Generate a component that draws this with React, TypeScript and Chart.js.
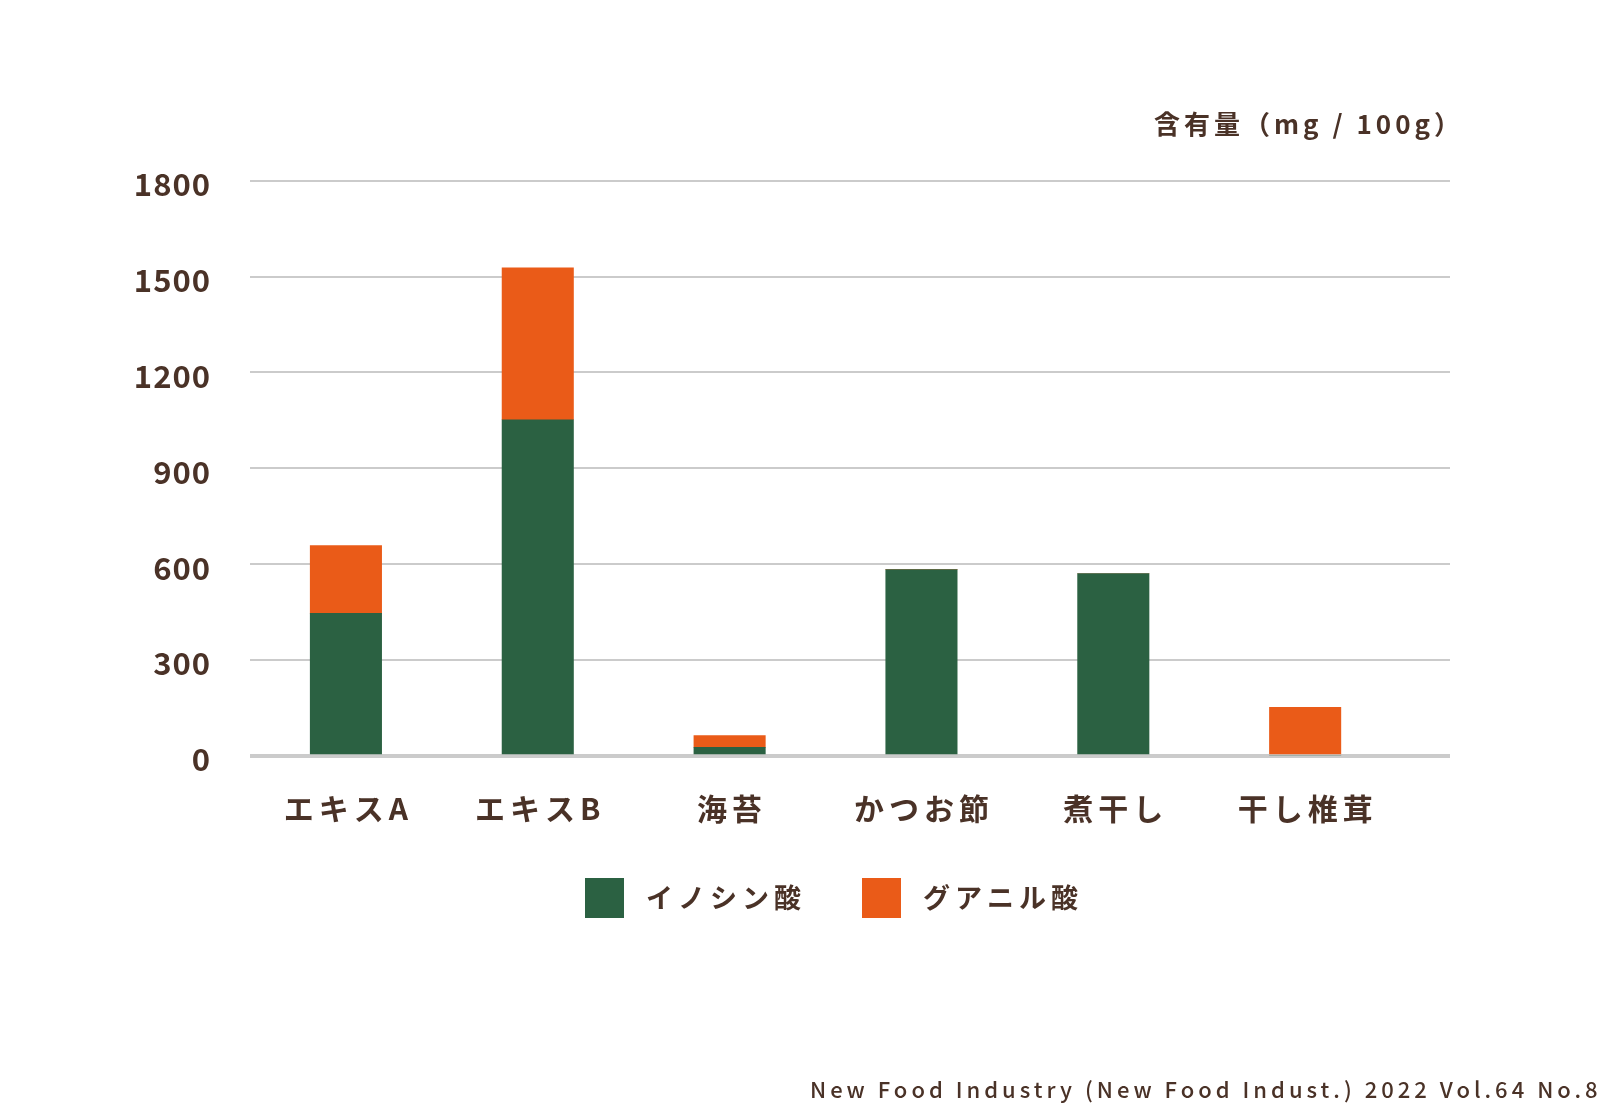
import React, { useEffect, useRef } from "react";
import { Chart, registerables } from "chart.js";

Chart.register(...registerables);

const categories = ["エキスA", "エキスB", "海苔", "かつお節", "煮干し", "干し椎茸"];
const seriesNames = ["イノシン酸", "グアニル酸"];
const inosinicAcid = [446, 1052, 27, 583, 571, 0];
const guanylicAcid = [212, 475, 37, 0, 0, 152];
const yTickValues = [0, 300, 600, 900, 1200, 1500, 1800];
const unitLabel = "含有量（mg / 100g）";
const sourceNote = "New Food Industry (New Food Indust.) 2022 Vol.64 No.8";

const GREEN = "#2b6142";
const ORANGE = "#ea5b18";
const TEXT = "#4a3227";
const GRID = "#cbcbcb";
const FONT = "'Noto Sans CJK JP', 'Noto Sans', sans-serif";

// letter spacing per font size (px)
const SPACING: Record<number, number> = { 31: 1, 26: 4, 30: 5, 27: 5 };

function spacingFor(font: string): number {
  const m = /(\d+(?:\.\d+)?)px/.exec(font);
  if (!m) return 0;
  const s = SPACING[parseFloat(m[1])];
  return s === undefined ? 0 : s;
}

const letterSpacingPlugin = {
  id: "letterSpacing",
  beforeInit(chart: any) {
    const ctx = chart.ctx as any;
    const origFill = ctx.fillText.bind(ctx);
    const origMeasure = ctx.measureText.bind(ctx);
    ctx.fillText = (t: string, x: number, y: number, mw?: number) => {
      ctx.letterSpacing = spacingFor(ctx.font) + "px";
      return mw === undefined ? origFill(t, x, y) : origFill(t, x, y, mw);
    };
    ctx.measureText = (t: string) => {
      ctx.letterSpacing = spacingFor(ctx.font) + "px";
      return origMeasure(t);
    };
  },
};

// centre the legend under the plot (plot + tick-label gutter)
const legendBoundsPlugin = {
  id: "legendBounds",
  afterLayout(chart: any) {
    const lg = chart.legend;
    if (!lg) return;
    lg.left = chart.chartArea.left - 40.5;
    lg.right = chart.chartArea.right;
    lg.width = lg.right - lg.left;
  },
};

function swatch(color: string): HTMLCanvasElement {
  const c = document.createElement("canvas");
  c.width = 39;
  c.height = 40;
  const g = c.getContext("2d")!;
  g.fillStyle = color;
  g.fillRect(0, 0, 39, 40);
  return c;
}

export default function App() {
  const ref = useRef<HTMLCanvasElement | null>(null);

  useEffect(() => {
    if (!ref.current) return;
    const chart = new Chart(ref.current, {
      type: "bar",
      data: {
        datasets: [
          {
            label: seriesNames[0],
            data: inosinicAcid.map((v, i) => ({ x: i, y: v })),
            backgroundColor: GREEN,
            borderWidth: 0,
            barThickness: 71.4,
            pointStyle: swatch(GREEN) as any,
          },
          {
            label: seriesNames[1],
            data: guanylicAcid.map((v, i) => ({ x: i, y: v })),
            backgroundColor: ORANGE,
            borderWidth: 0,
            barThickness: 71.4,
            pointStyle: swatch(ORANGE) as any,
          },
        ],
      },
      options: {
        responsive: false,
        animation: false,
        devicePixelRatio: 1,
        events: [],
        layout: { padding: { left: 100, right: 136, top: 0, bottom: 188.5 } },
        scales: {
          x: {
            type: "linear",
            stacked: true,
            offset: false,
            min: -0.5,
            max: 5.755,
            grid: { display: false, drawTicks: false, offset: false },
            border: { display: false },
            afterBuildTicks: (axis: any) => {
              axis.ticks = categories.map((_, i) => ({ value: i }));
            },
            afterFit: (axis: any) => {
              axis.height = 81;
            },
            ticks: {
              autoSkip: false,
              maxRotation: 0,
              minRotation: 0,
              padding: 35,
              labelOffset: 2.5,
              color: TEXT,
              font: { family: FONT, size: 30, weight: "bold" },
              callback: (v: any) => categories[Number(v)] ?? "",
            },
          },
          y: {
            stacked: true,
            min: 0,
            max: 1800,
            afterBuildTicks: (axis: any) => {
              axis.ticks = yTickValues.map((v) => ({ value: v }));
            },
            afterFit: (axis: any) => {
              axis.width = 150;
            },
            grid: {
              color: GRID,
              lineWidth: (c: any) => (c.tick && c.tick.value === 0 ? 4 : 2),
              drawTicks: false,
            },
            border: { display: false },
            ticks: {
              padding: 39,
              labelOffset: 3.5,
              color: TEXT,
              font: { family: FONT, size: 31, weight: "bold" },
              callback: (v: any) => String(v),
            },
          },
          gutter: {
            type: "linear",
            position: "right",
            display: true,
            grid: { display: false, drawTicks: false },
            border: { display: false },
            ticks: { display: false },
            afterFit: (axis: any) => {
              axis.width = 14;
            },
          },
        },
        plugins: {
          tooltip: { enabled: false },
          title: {
            display: true,
            text: unitLabel,
            align: "end",
            color: TEXT,
            font: { family: FONT, size: 26, weight: "bold", lineHeight: 1.2 },
            padding: { top: 109, bottom: 40.5 },
          },
          legend: {
            display: true,
            position: "bottom",
            align: "center",
            labels: {
              usePointStyle: true,
              pointStyleWidth: 56,
              padding: 47.5,
              color: TEXT,
              font: { family: FONT, size: 27, weight: "bold" },
            },
          },
        },
      } as any,
      plugins: [letterSpacingPlugin, legendBoundsPlugin],
    });
    return () => chart.destroy();
  }, []);

  return (
    <div
      style={{
        position: "fixed",
        left: 0,
        top: 0,
        width: 1600,
        height: 1110,
        overflow: "hidden",
        background: "#ffffff",
      }}
    >
      <canvas ref={ref} width={1600} height={1110} style={{ position: "absolute", left: 0, top: 0 }} />
      <div
        style={{
          position: "absolute",
          left: 810,
          top: 1074,
          whiteSpace: "nowrap",
          fontFamily: FONT,
          fontSize: 22,
          fontWeight: 500,
          letterSpacing: "4px",
          lineHeight: "28px",
          color: TEXT,
        }}
      >
        {sourceNote}
      </div>
    </div>
  );
}
